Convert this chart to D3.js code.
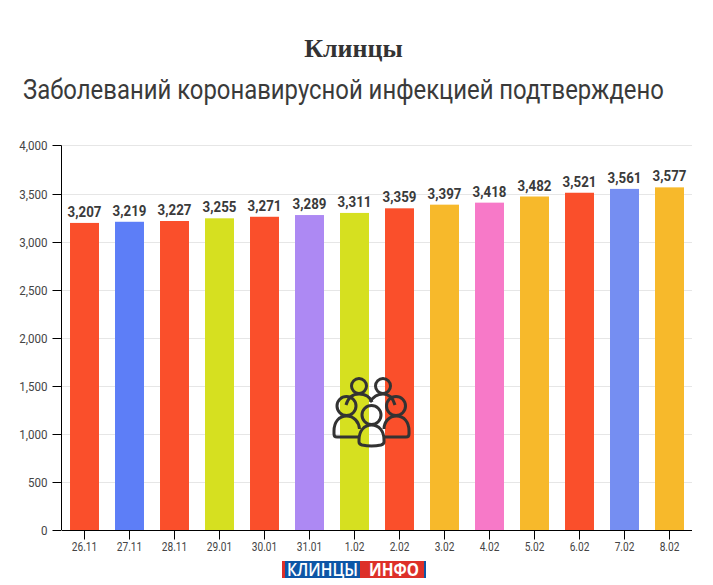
<!DOCTYPE html>
<html><head><meta charset="utf-8">
<style>html,body{margin:0;padding:0;background:#fff}svg{display:block}</style>
<script src="https://cdn.jsdelivr.net/npm/d3@7/dist/d3.min.js"></script>
</head><body><svg id="c" width="713" height="585"></svg>
<script>
const categories=["26.11","27.11","28.11","29.01","30.01","31.01","1.02","2.02","3.02","4.02","5.02","6.02","7.02","8.02"];
const values=[3207,3219,3227,3255,3271,3289,3311,3359,3397,3418,3482,3521,3561,3577];
const colors=["#fa4f2b","#5d7ef7","#fa4f2b","#d6e020","#fa4f2b","#ad89f3","#d6e020","#fa4f2b","#f7b92b","#f779c8","#f7b92b","#fa4f2b","#758ef2","#f7b92b"];
const yTicks=[0,500,1000,1500,2000,2500,3000,3500,4000];
const titleText="Клинцы", subtitleText="Заболеваний коронавирусной инфекцией подтверждено";
const svg=d3.select("#c");
const m={l:62,r:692,t:145.5,b:530};
const x=d3.scaleBand().domain(categories).range([m.l,m.r]).paddingInner(0.356).paddingOuter(0.178);
const y=d3.scaleLinear().domain([0,4000]).range([m.b,m.t]);
const fmt=d3.format(",");
const snap=v=>Math.round(v-0.01)+0.5;
// narrow text horizontally by a factor, about its anchor position
const squeeze=(sel,k)=>sel.each(function(){
  const t=d3.select(this),px=+t.attr("x")||0,py=+t.attr("y")||0;
  t.attr("transform",`translate(${px},${py}) scale(${k},1) translate(${-px},${-py})`);
});
const fit=(sel,w)=>sel.each(function(){d3.select(this).call(squeeze,w/this.getComputedTextLength());});

svg.append("text").attr("x",353.5).attr("y",57).attr("text-anchor","middle")
 .attr("font-family","Liberation Serif").attr("font-weight","bold").attr("font-size",26).attr("fill","#333").text(titleText);
svg.append("text").attr("x",23).attr("y",99).attr("font-family","Roboto").attr("font-size",28).attr("fill","#3a3a3a")
 .text(subtitleText).call(fit,641);

svg.append("g").selectAll("line").data(yTicks.filter(d=>d>0)).join("line")
 .attr("x1",m.l).attr("x2",m.r).attr("y1",d=>snap(y(d))).attr("y2",d=>snap(y(d))).attr("stroke","#e6e6e6");

svg.append("g").selectAll("rect").data(values).join("rect")
 .attr("x",(d,i)=>x(categories[i])).attr("width",x.bandwidth())
 .attr("y",d=>y(d)+1.2).attr("height",d=>y(0)-y(d)-1.2).attr("fill",(d,i)=>colors[i]);

svg.append("g").selectAll("text").data(values).join("text")
 .attr("x",(d,i)=>x(categories[i])+x.bandwidth()/2).attr("y",d=>y(d)-4.7).attr("text-anchor","middle")
 .attr("font-family","Roboto").attr("font-weight","bold").attr("font-size",15.5).attr("fill","#3a3a3a")
 .text(d=>fmt(d)).call(squeeze,0.86);

const yA=svg.append("g").attr("transform",`translate(${m.l-.5},0)`)
 .call(d3.axisLeft(y).tickValues(yTicks).tickFormat(fmt).tickSize(9).tickSizeOuter(0).offset(0));
yA.select(".domain").attr("stroke","#000");
yA.selectAll(".tick").attr("transform",d=>`translate(0,${snap(y(d))})`);
yA.selectAll("line").attr("stroke","#000");
yA.selectAll("text").attr("font-family","Roboto").attr("font-size",13).attr("fill","#444").attr("x",-14).call(squeeze,0.89);

const xA=svg.append("g").attr("transform",`translate(0,${m.b+.5})`)
 .call(d3.axisBottom(x).tickSize(9).tickSizeOuter(0).offset(0));
xA.select(".domain").attr("stroke","#000");
xA.selectAll("line").attr("stroke","#000");
xA.selectAll("text").attr("font-family","Roboto").attr("font-size",13).attr("fill","#444").attr("y",11.5).call(squeeze,0.78);

// people icon overlay
const ic=svg.append("g").attr("fill","none").attr("stroke","#333").attr("stroke-width",3).attr("stroke-linejoin","round");
ic.append("path").attr("d","M346 405c2-7 6-11 13-11s11 3 13 8");
ic.append("path").attr("d","M370 402c3-5 7-8 13-8s10 4 12 11");
[[359,386,7.5],[383,386,7.5],[346.5,406,9.500],[396,406,9.500],[371.5,415,9.500]].forEach(c=>
 ic.append("circle").attr("cx",c[0]).attr("cy",c[1]).attr("r",c[2]));
ic.append("path").attr("d","M334 431c0-9 5-15 12.500-15s12.500 6 13 13M334 431v3q0 3 3 3h22");
ic.append("path").attr("d","M384 429c0-7 5-13 12.500-13s12.500 6 12.500 15v3q0 3-3 3h-22");
ic.append("path").attr("d","M359 440c0-9 5-15 12.500-15s12.500 6 12.500 15v2q0 2-3 3q-9.500 2-19 0q-3-1-3-3z");

// logo
const lg=svg.append("g");
lg.append("rect").attr("x",282).attr("y",561).attr("width",144).attr("height",17).attr("fill","#dd3029");
lg.append("rect").attr("x",285).attr("y",561).attr("width",75).attr("height",17).attr("fill","#0d56a6");
lg.append("rect").attr("x",424).attr("y",561).attr("width",2).attr("height",17).attr("fill","#0d56a6");
lg.append("text").attr("x",287).attr("y",576).attr("font-family","Open Sans").attr("font-weight","600").attr("font-size",18).attr("fill","#fff").text("КЛИНЦЫ").call(fit,71);
lg.append("text").attr("x",369).attr("y",576).attr("font-family","Open Sans").attr("font-weight","bold").attr("font-size",18).attr("fill","#fff").text("ИНФО").call(fit,50);
</script></body></html>
